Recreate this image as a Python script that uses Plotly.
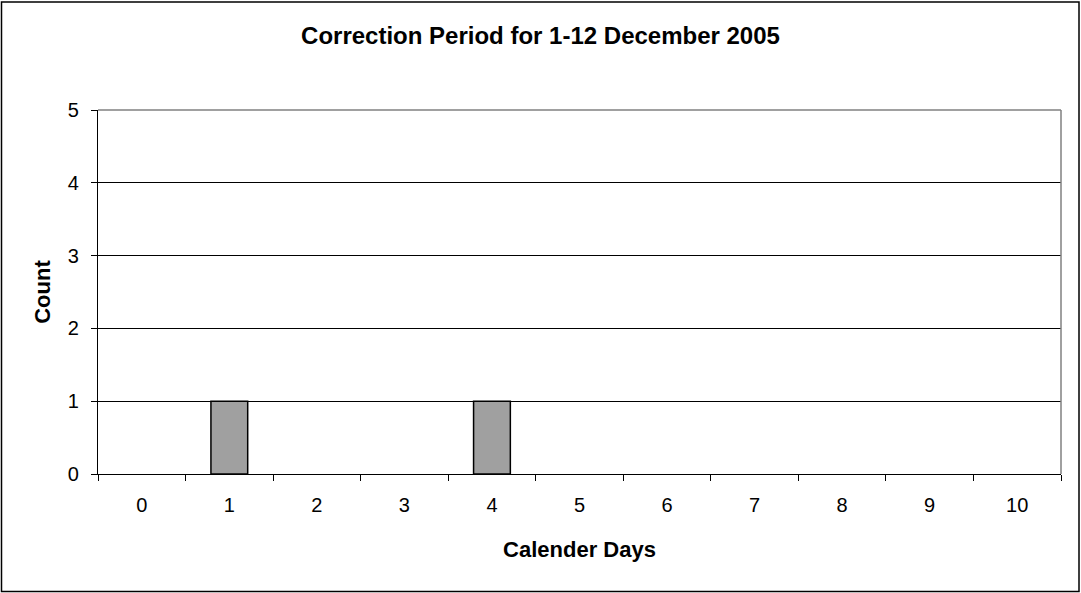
import plotly.graph_objects as go

categories = ["0", "1", "2", "3", "4", "5", "6", "7", "8", "9", "10"]
counts = [0, 1, 0, 0, 1, 0, 0, 0, 0, 0, 0]
y_ticks = [0, 1, 2, 3, 4, 5]

W, H = 1081, 593
L, R, T, B = 98, 20, 110, 119
pw, ph = W - L - R, H - T - B

FONT = "Arial, Liberation Sans, sans-serif"

fig = go.Figure()
fig.add_trace(go.Bar(
    x=categories, y=counts,
    marker=dict(color="#a0a0a0",
                line=dict(color="black", width=[1.5 if v > 0 else 0 for v in counts])),
    width=0.42,
))

def px_x(p):
    return (p - L) / pw

def px_y(p):
    return (H - B - p) / ph

fig.update_layout(
    width=W, height=H,
    margin=dict(l=L, r=R, t=T, b=B, pad=0),
    paper_bgcolor="white", plot_bgcolor="white",
    showlegend=False,
    font=dict(family=FONT, color="black", size=20),
    title=dict(text="<b>Correction Period for 1-12 December 2005</b>",
               x=0.5, xanchor="center", y=1 - 36 / H, yanchor="middle",
               font=dict(size=24, family=FONT, color="black")),
    xaxis=dict(
        type="category", range=[-0.5, 10.5],
        showline=True, linecolor="black", linewidth=1.2,
        ticks="outside", ticklen=6, tickcolor="black", tickwidth=1,
        tickson="boundaries", showgrid=False, zeroline=False,
        tickfont=dict(size=20), ticklabelstandoff=13,
        title=dict(text="<b>Calender Days</b>", font=dict(size=22), standoff=26),
    ),
    yaxis=dict(
        range=[0, 5], tickvals=y_ticks,
        showline=True, linecolor="black", linewidth=1.2,
        ticks="outside", ticklen=6, tickcolor="black", tickwidth=1,
        showgrid=True, gridcolor="black", gridwidth=1, zeroline=False,
        tickfont=dict(size=20), ticklabelstandoff=8,
        title=dict(text="<b>Count</b>", font=dict(size=22), standoff=11),
    ),
)

# plot-area border (top and right, grey)
fig.add_shape(type="line", xref="paper", yref="paper", x0=0, x1=1, y0=1, y1=1,
              line=dict(color="#808080", width=1.5), layer="above")
fig.add_shape(type="line", xref="paper", yref="paper", x0=1, x1=1, y0=0, y1=1,
              line=dict(color="#808080", width=1.5), layer="above")
# outer chart border
fig.add_shape(type="rect", xref="paper", yref="paper",
              x0=px_x(1.5), x1=px_x(W - 2), y0=px_y(H - 1.5), y1=px_y(2),
              line=dict(color="black", width=1.5), layer="above")

fig.write_html("out.html", config={"displayModeBar": False},
               post_script="document.body.style.margin='0';")
